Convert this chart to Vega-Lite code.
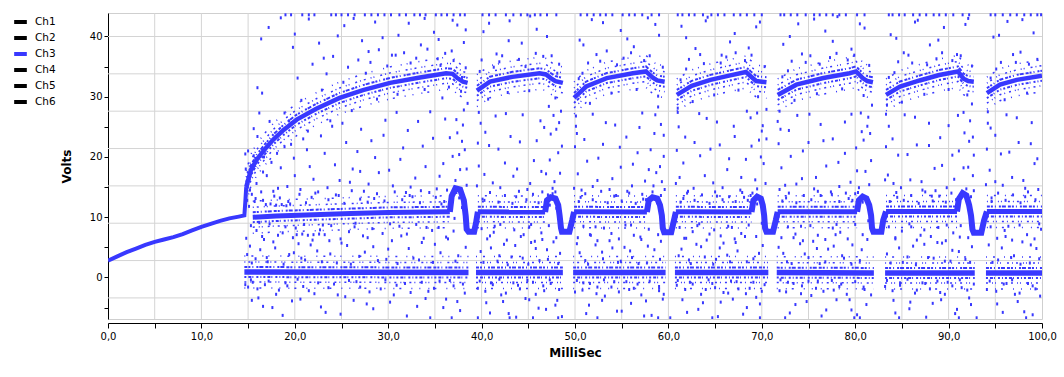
{
"$schema":"https://vega.github.io/schema/vega-lite/v6.json",
"width":934,"height":306,
"autosize":{"type":"none"},
"padding":{"left":108,"top":13,"right":22,"bottom":58},
"background":"white",
"config":{
"view":{"stroke":"#cfcfcf","strokeWidth":1},
"font":"DejaVu Sans",
"axisX":{"values":[0,5,10,15,20,25,30,35,40,45,50,55,60,65,70,75,80,85,90,95,100],"labelExpr":"datum.value % 10 == 0 ? replace(format(datum.value, '.1f'), '.', ',') : ''","offset":4,"grid":false,"domainColor":"#000","tickColor":"#000","tickSize":5,"labelFontSize":10,"labelColor":"#000","labelPadding":3,"labelOverlap":false,"labelFlush":false,"titleFontSize":12,"titleFontWeight":"bold","titleColor":"#000","titlePadding":6},
"axisY":{"values":[-5,0,5,10,15,20,25,30,35,40],"labelExpr":"datum.value % 10 == 0 ? datum.label : ''","grid":false,"domainColor":"#000","tickColor":"#000","tickSize":4,"labelFontSize":10,"labelColor":"#000","labelPadding":2,"labelOverlap":false,"titleFontSize":12,"titleFontWeight":"bold","titleColor":"#000","titlePadding":16}
},
"datasets":{
"grid_h":[{"v":40},{"v":33.8},{"v":27.6},{"v":21.4},{"v":15.2},{"v":9.0},{"v":2.8},{"v":-3.4}],
"grid_v":[{"t":5},{"t":10},{"t":15},{"t":20},{"t":25},{"t":30},{"t":35},{"t":40},{"t":45},{"t":50},{"t":55},{"t":60},{"t":65},{"t":70},{"t":75},{"t":80},{"t":85},{"t":90},{"t":95}],
"bands":[
{"s":"r","k":"ramp","t":0,"v":2.8},{"s":"r","k":"ramp","t":1,"v":3.5},{"s":"r","k":"ramp","t":2,"v":4.2},{"s":"r","k":"ramp","t":3,"v":4.8},{"s":"r","k":"ramp","t":4,"v":5.4},{"s":"r","k":"ramp","t":5,"v":5.9},{"s":"r","k":"ramp","t":6,"v":6.3},{"s":"r","k":"ramp","t":7,"v":6.7},{"s":"r","k":"ramp","t":8,"v":7.2},{"s":"r","k":"ramp","t":9,"v":7.8},{"s":"r","k":"ramp","t":10,"v":8.4},{"s":"r","k":"ramp","t":11,"v":8.9},{"s":"r","k":"ramp","t":12,"v":9.4},{"s":"r","k":"ramp","t":13,"v":9.8},{"s":"r","k":"ramp","t":14,"v":10.1},{"s":"r","k":"ramp","t":14.6,"v":10.3},{"s":"r","k":"ramp","t":14.7,"v":12.5},{"s":"r","k":"ramp","t":14.8,"v":15.0},
{"s":"u1","k":"up","t":14.8,"v":15.0},{"s":"u1","k":"up","t":15.3,"v":17.8},{"s":"u1","k":"up","t":15.9,"v":19.5},{"s":"u1","k":"up","t":16.8,"v":21.3},{"s":"u1","k":"up","t":17.7,"v":22.9},{"s":"u1","k":"up","t":18.8,"v":24.5},{"s":"u1","k":"up","t":20.2,"v":26.2},{"s":"u1","k":"up","t":22.3,"v":28.0},{"s":"u1","k":"up","t":24.8,"v":29.8},{"s":"u1","k":"up","t":27.3,"v":31.1},{"s":"u1","k":"up","t":30.2,"v":32.3},{"s":"u1","k":"up","t":33.4,"v":33.2},{"s":"u1","k":"up","t":36.2,"v":33.9},{"s":"u1","k":"up","t":36.9,"v":33.8},{"s":"u1","k":"up","t":37.4,"v":33.1},{"s":"u1","k":"up","t":38.0,"v":32.5},{"s":"u1","k":"up","t":38.5,"v":32.3},
{"s":"u2","k":"up","t":39.5,"v":31.0},{"s":"u2","k":"up","t":40.9,"v":32.5},{"s":"u2","k":"up","t":43.3,"v":33.3},{"s":"u2","k":"up","t":46.2,"v":33.9},{"s":"u2","k":"up","t":46.9,"v":33.7},{"s":"u2","k":"up","t":47.4,"v":33.1},{"s":"u2","k":"up","t":47.9,"v":32.6},{"s":"u2","k":"up","t":48.7,"v":32.3},
{"s":"u3","k":"up","t":49.9,"v":29.8},{"s":"u3","k":"up","t":51.2,"v":31.7},{"s":"u3","k":"up","t":53.4,"v":33.1},{"s":"u3","k":"up","t":56.2,"v":33.9},{"s":"u3","k":"up","t":57.6,"v":34.2},{"s":"u3","k":"up","t":58.3,"v":33.2},{"s":"u3","k":"up","t":58.8,"v":32.7},{"s":"u3","k":"up","t":59.6,"v":32.5},
{"s":"u4","k":"up","t":60.9,"v":30.3},{"s":"u4","k":"up","t":62.5,"v":31.8},{"s":"u4","k":"up","t":64.5,"v":32.8},{"s":"u4","k":"up","t":66.5,"v":33.5},{"s":"u4","k":"up","t":68.3,"v":34.1},{"s":"u4","k":"up","t":68.8,"v":33.4},{"s":"u4","k":"up","t":69.4,"v":32.6},{"s":"u4","k":"up","t":70.5,"v":32.4},
{"s":"u5","k":"up","t":71.7,"v":30.3},{"s":"u5","k":"up","t":73.7,"v":32.0},{"s":"u5","k":"up","t":76.6,"v":33.1},{"s":"u5","k":"up","t":79.4,"v":33.9},{"s":"u5","k":"up","t":80.1,"v":34.2},{"s":"u5","k":"up","t":80.8,"v":33.1},{"s":"u5","k":"up","t":81.3,"v":32.6},{"s":"u5","k":"up","t":81.9,"v":32.4},
{"s":"u6","k":"up","t":83.3,"v":30.3},{"s":"u6","k":"up","t":84.8,"v":31.7},{"s":"u6","k":"up","t":86.9,"v":32.7},{"s":"u6","k":"up","t":89.0,"v":33.6},{"s":"u6","k":"up","t":91.0,"v":34.2},{"s":"u6","k":"up","t":91.6,"v":33.0},{"s":"u6","k":"up","t":92.1,"v":32.6},{"s":"u6","k":"up","t":92.7,"v":32.5},
{"s":"u7","k":"up","t":94.1,"v":30.6},{"s":"u7","k":"up","t":95.5,"v":32.0},{"s":"u7","k":"up","t":97.3,"v":32.8},{"s":"u7","k":"up","t":100,"v":33.5},
{"s":"m1","k":"mid","t":15.5,"v":10.0},{"s":"m1","k":"mid","t":18,"v":10.2},{"s":"m1","k":"mid","t":22,"v":10.4},{"s":"m1","k":"mid","t":26,"v":10.6},{"s":"m1","k":"mid","t":30,"v":10.8},{"s":"m1","k":"mid","t":36.6,"v":10.9},
{"s":"d1","k":"dip","t":36.6,"v":10.9},{"s":"d1","k":"dip","t":36.8,"v":13.5},{"s":"d1","k":"dip","t":37.2,"v":14.8},{"s":"d1","k":"dip","t":37.7,"v":14.6},{"s":"d1","k":"dip","t":38.1,"v":12.8},{"s":"d1","k":"dip","t":38.3,"v":10.2},{"s":"d1","k":"dip","t":38.4,"v":8.0},{"s":"d1","k":"dip","t":38.6,"v":7.6},{"s":"d1","k":"dip","t":39.2,"v":7.6},{"s":"d1","k":"dip","t":39.4,"v":9.0},{"s":"d1","k":"dip","t":39.6,"v":10.9},
{"s":"m2","k":"mid","t":39.6,"v":10.9},{"s":"m2","k":"mid","t":46.8,"v":10.85},
{"s":"d2","k":"dip","t":46.8,"v":10.85},{"s":"d2","k":"dip","t":47.0,"v":12.8},{"s":"d2","k":"dip","t":47.4,"v":13.3},{"s":"d2","k":"dip","t":47.9,"v":13.1},{"s":"d2","k":"dip","t":48.2,"v":12.0},{"s":"d2","k":"dip","t":48.35,"v":10.3},{"s":"d2","k":"dip","t":48.5,"v":8.2},{"s":"d2","k":"dip","t":48.6,"v":7.6},{"s":"d2","k":"dip","t":49.4,"v":7.6},{"s":"d2","k":"dip","t":49.7,"v":9.5},{"s":"d2","k":"dip","t":49.9,"v":10.9},
{"s":"m3","k":"mid","t":49.9,"v":10.9},{"s":"m3","k":"mid","t":57.7,"v":10.85},
{"s":"d3","k":"dip","t":57.7,"v":10.85},{"s":"d3","k":"dip","t":57.9,"v":12.8},{"s":"d3","k":"dip","t":58.3,"v":13.3},{"s":"d3","k":"dip","t":58.8,"v":13.1},{"s":"d3","k":"dip","t":59.1,"v":12.0},{"s":"d3","k":"dip","t":59.3,"v":10.3},{"s":"d3","k":"dip","t":59.4,"v":8.2},{"s":"d3","k":"dip","t":59.55,"v":7.5},{"s":"d3","k":"dip","t":60.3,"v":7.5},{"s":"d3","k":"dip","t":60.6,"v":9.5},{"s":"d3","k":"dip","t":60.8,"v":10.9},
{"s":"m4","k":"mid","t":60.8,"v":10.9},{"s":"m4","k":"mid","t":68.9,"v":10.85},
{"s":"d4","k":"dip","t":68.9,"v":10.85},{"s":"d4","k":"dip","t":69.1,"v":12.8},{"s":"d4","k":"dip","t":69.5,"v":13.4},{"s":"d4","k":"dip","t":69.9,"v":13.1},{"s":"d4","k":"dip","t":70.1,"v":12.0},{"s":"d4","k":"dip","t":70.25,"v":10.3},{"s":"d4","k":"dip","t":70.35,"v":8.2},{"s":"d4","k":"dip","t":70.5,"v":7.6},{"s":"d4","k":"dip","t":71.2,"v":7.6},{"s":"d4","k":"dip","t":71.5,"v":9.5},{"s":"d4","k":"dip","t":71.7,"v":10.9},
{"s":"m5","k":"mid","t":71.7,"v":10.9},{"s":"m5","k":"mid","t":80.2,"v":10.9},
{"s":"d5","k":"dip","t":80.2,"v":10.9},{"s":"d5","k":"dip","t":80.4,"v":12.8},{"s":"d5","k":"dip","t":80.8,"v":13.4},{"s":"d5","k":"dip","t":81.2,"v":13.1},{"s":"d5","k":"dip","t":81.5,"v":12.0},{"s":"d5","k":"dip","t":81.7,"v":10.3},{"s":"d5","k":"dip","t":81.8,"v":8.2},{"s":"d5","k":"dip","t":81.95,"v":7.6},{"s":"d5","k":"dip","t":82.8,"v":7.6},{"s":"d5","k":"dip","t":83.0,"v":9.5},{"s":"d5","k":"dip","t":83.3,"v":10.95},
{"s":"m6","k":"mid","t":83.3,"v":10.95},{"s":"m6","k":"mid","t":90.9,"v":10.95},
{"s":"d6","k":"dip","t":90.9,"v":10.95},{"s":"d6","k":"dip","t":91.1,"v":13.0},{"s":"d6","k":"dip","t":91.5,"v":14.0},{"s":"d6","k":"dip","t":91.9,"v":13.6},{"s":"d6","k":"dip","t":92.2,"v":12.0},{"s":"d6","k":"dip","t":92.4,"v":10.3},{"s":"d6","k":"dip","t":92.55,"v":8.0},{"s":"d6","k":"dip","t":92.7,"v":7.4},{"s":"d6","k":"dip","t":93.5,"v":7.4},{"s":"d6","k":"dip","t":93.8,"v":9.5},{"s":"d6","k":"dip","t":94.1,"v":10.95},
{"s":"m7","k":"mid","t":94.1,"v":10.95},{"s":"m7","k":"mid","t":100,"v":10.95},
{"s":"l1","k":"low","t":14.6,"v":0.9},{"s":"l1","k":"low","t":38.6,"v":0.8},
{"s":"l2","k":"low","t":39.4,"v":0.8},{"s":"l2","k":"low","t":48.7,"v":0.8},
{"s":"l3","k":"low","t":49.8,"v":0.8},{"s":"l3","k":"low","t":59.7,"v":0.8},
{"s":"l4","k":"low","t":60.7,"v":0.8},{"s":"l4","k":"low","t":70.7,"v":0.8},
{"s":"l5","k":"low","t":71.6,"v":0.8},{"s":"l5","k":"low","t":82.0,"v":0.75},
{"s":"l6","k":"low","t":83.2,"v":0.75},{"s":"l6","k":"low","t":92.8,"v":0.75},
{"s":"l7","k":"low","t":94.0,"v":0.75},{"s":"l7","k":"low","t":100,"v":0.75}
],
"noise":[
{"t":17.2,"v":41.5},{"t":19.8,"v":38.2},{"t":21.5,"v":42.9},{"t":23.1,"v":36.4},{"t":24.6,"v":40.1},{"t":26.3,"v":43.0},{"t":27.9,"v":37.5},{"t":29.4,"v":39.8},{"t":30.8,"v":36.9},{"t":32.2,"v":42.2},{"t":33.5,"v":38.6},{"t":34.9,"v":40.7},{"t":36.1,"v":37.2},{"t":37.4,"v":41.9},{"t":38.1,"v":39.0},
{"t":16.0,"v":23.4},{"t":16.6,"v":17.5},{"t":17.3,"v":25.9},{"t":18.1,"v":20.6},{"t":18.9,"v":27.3},{"t":19.6,"v":22.1},{"t":20.7,"v":29.4},{"t":21.4,"v":24.3},{"t":22.9,"v":31.1},{"t":23.8,"v":26.0},{"t":25.2,"v":32.4},{"t":26.1,"v":27.7},{"t":27.6,"v":33.9},{"t":28.8,"v":29.6},{"t":29.9,"v":35.1},{"t":31.0,"v":30.4},{"t":32.4,"v":35.6},{"t":33.9,"v":31.2},{"t":35.3,"v":36.3},{"t":36.5,"v":31.6},{"t":37.0,"v":36.0},{"t":37.8,"v":30.9},{"t":38.3,"v":34.8},{"t":35.8,"v":29.8},
{"t":15.4,"v":13.8},{"t":15.9,"v":15.6},{"t":16.4,"v":14.2},{"t":17.0,"v":16.9},{"t":17.8,"v":13.5},{"t":18.5,"v":18.2},{"t":19.2,"v":15.1},{"t":19.9,"v":19.8},{"t":20.6,"v":14.6},{"t":21.3,"v":21.2},{"t":22.0,"v":16.3},{"t":22.8,"v":23.5},{"t":23.5,"v":14.9},{"t":24.3,"v":18.7},{"t":25.1,"v":25.6},{"t":25.9,"v":15.8},{"t":26.7,"v":20.9},{"t":27.4,"v":14.3},{"t":28.2,"v":22.7},{"t":29.0,"v":17.4},{"t":29.7,"v":26.1},{"t":30.5,"v":15.2},{"t":31.3,"v":19.6},{"t":32.1,"v":24.4},{"t":32.9,"v":16.5},{"t":33.7,"v":21.8},{"t":34.5,"v":27.5},{"t":35.2,"v":14.7},{"t":35.9,"v":18.9},{"t":36.6,"v":23.2},{"t":37.2,"v":16.1},{"t":37.6,"v":20.4},{"t":38.0,"v":25.3},{"t":38.4,"v":18.0},{"t":31.9,"v":14.1},{"t":27.0,"v":17.6},
{"t":15.1,"v":11.8},{"t":15.3,"v":8.6},{"t":15.7,"v":12.6},{"t":16.2,"v":9.1},{"t":16.9,"v":12.1},{"t":17.4,"v":12.2},{"t":18.0,"v":12.0},{"t":18.6,"v":12.1},{"t":19.1,"v":11.9},{"t":19.5,"v":12.2},{"t":20.1,"v":8.2},{"t":21.8,"v":13.3},{"t":23.0,"v":8.7},{"t":24.7,"v":13.6},{"t":26.4,"v":8.4},{"t":28.5,"v":13.1},{"t":30.2,"v":8.9},{"t":32.6,"v":13.4},{"t":34.1,"v":8.3},{"t":36.8,"v":12.5},{"t":37.3,"v":14.1},{"t":37.6,"v":13.2},{"t":37.9,"v":11.6},{"t":38.2,"v":12.9},{"t":37.1,"v":9.8},
{"t":20.2,"v":7.1},{"t":20.8,"v":7.2},{"t":21.4,"v":7.0},{"t":22.0,"v":7.1},{"t":22.6,"v":7.2},{"t":23.2,"v":7.1},
{"t":15.2,"v":5.2},{"t":15.8,"v":3.1},{"t":16.5,"v":6.8},{"t":17.1,"v":2.6},{"t":17.9,"v":4.9},{"t":18.7,"v":7.4},{"t":19.4,"v":3.8},{"t":20.4,"v":5.6},{"t":21.1,"v":2.9},{"t":22.4,"v":4.4},{"t":23.7,"v":6.1},{"t":24.5,"v":2.4},{"t":25.6,"v":5.3},{"t":26.9,"v":3.5},{"t":27.8,"v":6.6},{"t":28.9,"v":2.8},{"t":30.0,"v":4.7},{"t":31.4,"v":6.9},{"t":32.7,"v":3.2},{"t":33.6,"v":5.8},{"t":34.8,"v":2.5},{"t":35.6,"v":4.1},{"t":36.4,"v":6.4},{"t":37.5,"v":3.6},{"t":38.3,"v":5.0},
{"t":15.0,"v":-1.6},{"t":15.5,"v":-0.8},{"t":16.1,"v":-3.4},{"t":16.8,"v":-1.2},{"t":17.6,"v":-5.0},{"t":18.3,"v":-2.1},{"t":19.0,"v":-0.9},{"t":19.7,"v":-3.9},{"t":20.9,"v":-1.5},{"t":22.1,"v":-2.7},{"t":23.3,"v":-5.8},{"t":24.2,"v":-1.1},{"t":25.4,"v":-3.2},{"t":26.6,"v":-0.7},{"t":27.7,"v":-4.4},{"t":29.2,"v":-1.9},{"t":30.6,"v":-2.9},{"t":31.8,"v":-1.0},{"t":33.1,"v":-4.8},{"t":34.3,"v":-2.3},{"t":35.5,"v":-0.6},{"t":36.2,"v":-3.6},{"t":37.0,"v":-1.4},{"t":37.7,"v":-5.5},{"t":38.2,"v":-2.6},
{"t":14.7,"v":20.5},{"t":14.75,"v":18.0},{"t":14.8,"v":6.5},{"t":14.9,"v":3.8},{"t":14.7,"v":-1.2},{"t":15.0,"v":21.0},{"t":15.6,"v":20.2},{"t":14.9,"v":12.8},{"t":15.2,"v":14.5},{"t":15.4,"v":-3.8},{"t":16.0,"v":31.5},{"t":16.5,"v":30.6},
{"t":40.2,"v":40.8},{"t":41.6,"v":37.1},{"t":43.0,"v":42.6},{"t":44.3,"v":38.9},{"t":45.9,"v":41.2},{"t":47.5,"v":36.8},
{"t":39.8,"v":34.2},{"t":40.7,"v":29.6},{"t":41.9,"v":35.8},{"t":42.8,"v":30.7},{"t":44.0,"v":36.2},{"t":45.1,"v":31.0},{"t":46.6,"v":36.7},{"t":47.9,"v":29.8},{"t":48.3,"v":35.4},
{"t":39.7,"v":18.5},{"t":40.4,"v":24.1},{"t":41.2,"v":15.7},{"t":41.8,"v":21.3},{"t":42.6,"v":27.2},{"t":43.4,"v":16.8},{"t":44.1,"v":22.5},{"t":44.9,"v":14.6},{"t":45.6,"v":19.4},{"t":46.3,"v":26.0},{"t":46.9,"v":17.2},{"t":47.4,"v":23.8},{"t":47.8,"v":15.9},{"t":48.2,"v":20.7},{"t":48.5,"v":27.6},{"t":47.2,"v":28.4},
{"t":40.1,"v":13.0},{"t":41.4,"v":8.5},{"t":43.7,"v":13.4},{"t":45.3,"v":8.8},{"t":46.8,"v":12.6},{"t":47.6,"v":13.9},{"t":48.0,"v":11.5},{"t":47.3,"v":12.0},
{"t":39.9,"v":4.3},{"t":40.9,"v":6.9},{"t":41.7,"v":2.7},{"t":42.4,"v":5.5},{"t":43.2,"v":3.4},{"t":44.5,"v":7.1},{"t":45.0,"v":2.2},{"t":45.8,"v":4.8},{"t":46.5,"v":6.3},{"t":47.1,"v":3.0},{"t":47.7,"v":5.9},{"t":48.4,"v":4.0},
{"t":39.6,"v":-1.8},{"t":40.5,"v":-4.2},{"t":41.0,"v":-0.9},{"t":42.1,"v":-2.9},{"t":42.9,"v":-6.0},{"t":43.9,"v":-1.3},{"t":44.7,"v":-3.5},{"t":45.5,"v":-0.8},{"t":46.1,"v":-5.1},{"t":46.7,"v":-2.2},{"t":47.4,"v":-1.0},{"t":48.1,"v":-3.8},{"t":48.6,"v":-6.5},
{"t":50.5,"v":39.4},{"t":51.8,"v":42.8},{"t":53.4,"v":37.6},{"t":54.9,"v":41.0},{"t":56.3,"v":38.3},{"t":57.8,"v":43.1},{"t":59.0,"v":40.2},
{"t":50.1,"v":26.8},{"t":50.8,"v":33.9},{"t":51.6,"v":28.9},{"t":52.7,"v":35.9},{"t":53.9,"v":30.6},{"t":55.2,"v":36.4},{"t":56.6,"v":31.2},{"t":58.0,"v":36.8},{"t":58.9,"v":30.1},{"t":59.4,"v":34.9},
{"t":50.3,"v":17.2},{"t":51.0,"v":22.9},{"t":51.9,"v":15.1},{"t":52.5,"v":19.8},{"t":53.3,"v":25.7},{"t":54.0,"v":16.4},{"t":54.8,"v":21.6},{"t":55.6,"v":14.3},{"t":56.2,"v":18.8},{"t":56.9,"v":24.9},{"t":57.5,"v":16.0},{"t":58.1,"v":21.2},{"t":58.6,"v":27.0},{"t":59.1,"v":18.4},{"t":59.5,"v":23.6},{"t":58.4,"v":15.2},
{"t":50.6,"v":13.3},{"t":52.2,"v":8.4},{"t":54.4,"v":13.6},{"t":56.0,"v":8.7},{"t":57.3,"v":13.0},{"t":58.3,"v":14.2},{"t":58.8,"v":12.4},{"t":59.3,"v":9.2},
{"t":50.2,"v":5.6},{"t":51.1,"v":2.8},{"t":51.7,"v":7.0},{"t":52.9,"v":4.2},{"t":53.7,"v":6.1},{"t":54.6,"v":2.5},{"t":55.3,"v":5.0},{"t":56.1,"v":3.3},{"t":57.0,"v":6.7},{"t":57.7,"v":2.4},{"t":58.5,"v":4.6},{"t":59.2,"v":6.0},
{"t":50.0,"v":-2.4},{"t":50.9,"v":-0.9},{"t":51.5,"v":-4.6},{"t":52.4,"v":-1.6},{"t":53.2,"v":-3.1},{"t":54.2,"v":-0.7},{"t":55.0,"v":-5.6},{"t":55.8,"v":-2.0},{"t":56.7,"v":-1.1},{"t":57.6,"v":-3.9},{"t":58.2,"v":-6.3},{"t":59.0,"v":-1.5},{"t":59.5,"v":-2.8},
{"t":61.4,"v":41.7},{"t":62.9,"v":38.0},{"t":64.2,"v":43.2},{"t":65.7,"v":36.9},{"t":67.1,"v":40.5},{"t":68.6,"v":38.1},{"t":69.8,"v":42.4},
{"t":61.0,"v":27.4},{"t":61.9,"v":34.6},{"t":62.6,"v":29.2},{"t":63.8,"v":35.5},{"t":64.9,"v":30.3},{"t":66.2,"v":36.6},{"t":67.5,"v":31.1},{"t":68.9,"v":36.9},{"t":69.6,"v":30.0},{"t":70.3,"v":35.0},
{"t":61.2,"v":16.6},{"t":61.8,"v":23.3},{"t":62.7,"v":14.8},{"t":63.4,"v":20.2},{"t":64.1,"v":26.4},{"t":64.8,"v":15.7},{"t":65.5,"v":22.0},{"t":66.3,"v":17.9},{"t":67.0,"v":25.1},{"t":67.7,"v":14.5},{"t":68.3,"v":19.6},{"t":68.8,"v":26.5},{"t":69.3,"v":16.2},{"t":69.7,"v":22.8},{"t":70.2,"v":18.9},{"t":70.5,"v":27.9},
{"t":61.6,"v":13.1},{"t":63.1,"v":8.6},{"t":65.2,"v":13.5},{"t":66.8,"v":8.3},{"t":68.1,"v":13.3},{"t":69.0,"v":14.0},{"t":69.5,"v":12.2},{"t":70.0,"v":9.0},
{"t":61.1,"v":3.6},{"t":61.7,"v":6.5},{"t":62.4,"v":2.3},{"t":63.5,"v":5.1},{"t":64.4,"v":7.2},{"t":65.1,"v":3.0},{"t":65.9,"v":5.7},{"t":66.6,"v":2.6},{"t":67.4,"v":4.4},{"t":68.2,"v":6.8},{"t":69.1,"v":3.1},{"t":70.1,"v":5.3},
{"t":60.9,"v":-1.3},{"t":61.5,"v":-3.7},{"t":62.3,"v":-0.8},{"t":63.2,"v":-5.3},{"t":64.0,"v":-2.0},{"t":64.7,"v":-1.0},{"t":65.6,"v":-4.1},{"t":66.4,"v":-2.6},{"t":67.3,"v":-0.7},{"t":68.0,"v":-6.1},{"t":68.7,"v":-1.8},{"t":69.4,"v":-3.3},{"t":70.3,"v":-1.2},
{"t":72.3,"v":38.7},{"t":73.9,"v":42.1},{"t":75.2,"v":36.8},{"t":76.8,"v":40.9},{"t":78.1,"v":43.3},{"t":79.6,"v":37.9},{"t":81.0,"v":41.4},
{"t":71.9,"v":27.6},{"t":72.8,"v":34.3},{"t":73.5,"v":29.4},{"t":74.7,"v":35.7},{"t":75.9,"v":30.5},{"t":77.3,"v":36.5},{"t":78.6,"v":31.3},{"t":79.9,"v":36.9},{"t":80.9,"v":30.2},{"t":81.5,"v":35.2},
{"t":72.1,"v":18.2},{"t":72.9,"v":24.4},{"t":73.7,"v":15.5},{"t":74.4,"v":21.0},{"t":75.1,"v":27.1},{"t":75.8,"v":16.6},{"t":76.6,"v":22.7},{"t":77.4,"v":14.2},{"t":78.2,"v":19.1},{"t":78.9,"v":25.8},{"t":79.5,"v":15.8},{"t":80.1,"v":21.5},{"t":80.6,"v":27.3},{"t":81.1,"v":17.6},{"t":81.6,"v":23.9},{"t":80.4,"v":14.9},
{"t":72.6,"v":13.2},{"t":74.2,"v":8.5},{"t":76.3,"v":13.6},{"t":78.0,"v":8.8},{"t":79.3,"v":13.1},{"t":80.3,"v":14.1},{"t":80.8,"v":12.5},{"t":81.4,"v":9.4},
{"t":71.8,"v":5.0},{"t":72.7,"v":2.6},{"t":73.4,"v":6.6},{"t":74.6,"v":3.9},{"t":75.5,"v":6.0},{"t":76.2,"v":2.3},{"t":77.1,"v":4.7},{"t":77.9,"v":7.1},{"t":78.8,"v":3.2},{"t":79.7,"v":5.4},{"t":80.5,"v":2.8},{"t":81.3,"v":6.3},
{"t":71.9,"v":-2.2},{"t":72.8,"v":-0.8},{"t":73.6,"v":-4.5},{"t":74.3,"v":-1.4},{"t":75.3,"v":-3.0},{"t":76.0,"v":-0.6},{"t":76.9,"v":-5.4},{"t":77.7,"v":-2.1},{"t":78.5,"v":-1.1},{"t":79.4,"v":-3.7},{"t":80.2,"v":-6.2},{"t":80.9,"v":-1.6},{"t":81.7,"v":-2.9},
{"t":83.8,"v":40.3},{"t":85.2,"v":37.3},{"t":86.7,"v":42.7},{"t":88.0,"v":38.6},{"t":89.5,"v":41.5},{"t":90.9,"v":37.0},{"t":92.1,"v":43.0},
{"t":83.3,"v":27.1},{"t":84.2,"v":34.0},{"t":85.0,"v":29.1},{"t":86.1,"v":35.6},{"t":87.4,"v":30.4},{"t":88.7,"v":36.3},{"t":90.0,"v":31.2},{"t":91.3,"v":36.8},{"t":92.0,"v":30.3},{"t":92.5,"v":35.1},
{"t":83.5,"v":17.0},{"t":84.0,"v":23.0},{"t":84.9,"v":14.9},{"t":85.6,"v":20.4},{"t":86.4,"v":26.6},{"t":87.1,"v":15.9},{"t":87.9,"v":21.9},{"t":88.6,"v":14.4},{"t":89.3,"v":18.6},{"t":90.0,"v":25.2},{"t":90.6,"v":16.3},{"t":91.1,"v":21.0},{"t":91.6,"v":27.4},{"t":92.1,"v":18.3},{"t":92.6,"v":23.3},{"t":91.9,"v":14.7},
{"t":84.5,"v":13.3},{"t":86.0,"v":8.4},{"t":88.2,"v":13.5},{"t":89.8,"v":8.7},{"t":91.0,"v":13.2},{"t":91.5,"v":14.0},{"t":92.0,"v":12.3},{"t":92.4,"v":9.3},
{"t":83.4,"v":3.9},{"t":84.3,"v":6.6},{"t":85.1,"v":2.5},{"t":86.2,"v":5.2},{"t":87.0,"v":7.0},{"t":87.8,"v":3.3},{"t":88.8,"v":5.8},{"t":89.6,"v":2.7},{"t":90.4,"v":4.5},{"t":91.2,"v":6.7},{"t":91.8,"v":3.0},{"t":92.5,"v":5.1},
{"t":83.2,"v":-1.5},{"t":84.1,"v":-3.8},{"t":84.8,"v":-0.9},{"t":85.8,"v":-5.2},{"t":86.6,"v":-2.1},{"t":87.5,"v":-1.0},{"t":88.3,"v":-4.3},{"t":89.1,"v":-2.5},{"t":89.9,"v":-0.8},{"t":90.7,"v":-6.0},{"t":91.4,"v":-1.7},{"t":92.2,"v":-3.4},{"t":92.7,"v":-1.1},
{"t":94.8,"v":39.9},{"t":96.3,"v":42.5},{"t":97.7,"v":37.4},{"t":99.1,"v":40.6},
{"t":94.2,"v":27.5},{"t":95.1,"v":34.6},{"t":96.0,"v":29.5},{"t":97.2,"v":35.7},{"t":98.4,"v":30.6},{"t":99.5,"v":36.2},
{"t":94.4,"v":17.8},{"t":95.0,"v":23.6},{"t":95.8,"v":15.3},{"t":96.5,"v":20.8},{"t":97.3,"v":26.5},{"t":98.0,"v":16.1},{"t":98.8,"v":22.2},{"t":99.6,"v":14.6},{"t":99.2,"v":18.9},
{"t":94.6,"v":13.2},{"t":96.4,"v":8.5},{"t":98.2,"v":13.4},{"t":99.7,"v":8.9},
{"t":94.3,"v":5.4},{"t":95.3,"v":2.9},{"t":96.1,"v":6.8},{"t":97.0,"v":3.6},{"t":97.9,"v":5.9},{"t":98.7,"v":2.4},{"t":99.4,"v":4.8},
{"t":94.1,"v":-2.0},{"t":95.2,"v":-4.4},{"t":96.2,"v":-1.0},{"t":97.1,"v":-2.8},{"t":98.1,"v":-5.7},{"t":99.0,"v":-1.4},{"t":99.8,"v":-3.1},
{"t":37.9,"v":22.6},{"t":38.1,"v":27.8},{"t":37.3,"v":26.2},{"t":38.4,"v":15.3},{"t":37.7,"v":17.9},
{"t":48.0,"v":24.6},{"t":48.4,"v":17.3},{"t":47.7,"v":26.9},{"t":48.6,"v":21.8},{"t":47.9,"v":14.2},
{"t":59.2,"v":25.4},{"t":58.7,"v":17.4},{"t":59.5,"v":20.1},{"t":58.9,"v":28.3},{"t":59.6,"v":14.6},
{"t":70.0,"v":24.3},{"t":69.5,"v":27.3},{"t":70.4,"v":15.6},{"t":69.9,"v":20.0},{"t":70.5,"v":23.0},
{"t":81.3,"v":25.1},{"t":81.7,"v":19.4},{"t":80.7,"v":24.2},{"t":81.8,"v":28.6},{"t":81.5,"v":15.4},
{"t":92.3,"v":26.0},{"t":92.6,"v":16.9},{"t":91.7,"v":24.0},{"t":92.5,"v":28.8},{"t":92.7,"v":20.3},
{"t":39.6,"v":22.3},{"t":39.7,"v":27.4},{"t":39.5,"v":15.2},{"t":50.0,"v":21.7},{"t":50.1,"v":25.1},{"t":49.9,"v":14.8},{"t":60.9,"v":21.1},{"t":61.0,"v":28.1},{"t":60.8,"v":15.6},{"t":71.8,"v":22.2},{"t":71.7,"v":25.9},{"t":71.9,"v":14.6},{"t":83.3,"v":21.7},{"t":83.4,"v":28.6},{"t":83.2,"v":16.2},{"t":94.1,"v":21.3},{"t":94.2,"v":25.6},{"t":94.0,"v":15.4},
{"t":19.6,"v":43.6},{"t":20.8,"v":43.6},{"t":22.1,"v":43.6},{"t":23.9,"v":43.6},{"t":25.0,"v":43.6},{"t":26.4,"v":43.6},{"t":27.5,"v":43.6},{"t":28.9,"v":43.6},{"t":30.3,"v":43.6},{"t":31.2,"v":43.6},{"t":32.8,"v":43.6},{"t":34.0,"v":43.6},{"t":35.1,"v":43.6},{"t":36.3,"v":43.6},{"t":37.7,"v":43.6},{"t":40.1,"v":43.6},{"t":41.5,"v":43.6},{"t":42.6,"v":43.6},{"t":44.2,"v":43.6},{"t":45.7,"v":43.6},{"t":47.0,"v":43.6},{"t":50.6,"v":43.6},{"t":52.0,"v":43.6},{"t":53.3,"v":43.6},{"t":55.1,"v":43.6},{"t":56.4,"v":43.6},{"t":58.2,"v":43.6},{"t":61.5,"v":43.6},{"t":62.8,"v":43.6},{"t":64.6,"v":43.6},{"t":66.0,"v":43.6},{"t":67.7,"v":43.6},{"t":69.2,"v":43.6},{"t":72.4,"v":43.6},{"t":73.8,"v":43.6},{"t":75.6,"v":43.6},{"t":76.9,"v":43.6},{"t":78.3,"v":43.6},{"t":80.2,"v":43.6},{"t":84.0,"v":43.6},{"t":85.3,"v":43.6},{"t":86.9,"v":43.6},{"t":88.4,"v":43.6},{"t":89.7,"v":43.6},{"t":91.5,"v":43.6},{"t":95.0,"v":43.6},{"t":96.6,"v":43.6},{"t":98.1,"v":43.6},{"t":99.5,"v":43.6},
{"t":19.0,"v":43.6},{"t":21.5,"v":43.6},{"t":24.4,"v":43.6},{"t":25.7,"v":43.6},{"t":28.2,"v":43.6},{"t":29.6,"v":43.6},{"t":31.9,"v":43.6},{"t":33.4,"v":43.6},{"t":35.7,"v":43.6},{"t":37.0,"v":43.6},{"t":38.2,"v":43.6},{"t":40.8,"v":43.6},{"t":43.4,"v":43.6},{"t":44.9,"v":43.6},{"t":46.3,"v":43.6},{"t":48.0,"v":43.6},{"t":51.3,"v":43.6},{"t":52.7,"v":43.6},{"t":54.0,"v":43.6},{"t":55.8,"v":43.6},{"t":57.2,"v":43.6},{"t":59.0,"v":43.6},{"t":61.0,"v":43.6},{"t":62.2,"v":43.6},{"t":63.7,"v":43.6},{"t":65.3,"v":43.6},{"t":67.0,"v":43.6},{"t":68.4,"v":43.6},{"t":70.0,"v":43.6},{"t":72.0,"v":43.6},{"t":73.1,"v":43.6},{"t":74.7,"v":43.6},{"t":76.2,"v":43.6},{"t":77.6,"v":43.6},{"t":79.0,"v":43.6},{"t":81.0,"v":43.6},{"t":83.6,"v":43.6},{"t":84.7,"v":43.6},{"t":86.2,"v":43.6},{"t":87.6,"v":43.6},{"t":89.0,"v":43.6},{"t":90.5,"v":43.6},{"t":92.2,"v":43.6},{"t":94.5,"v":43.6},{"t":95.8,"v":43.6},{"t":97.3,"v":43.6},{"t":98.8,"v":43.6},{"t":99.9,"v":43.6},
{"t":34.5,"v":-6.7},{"t":36.8,"v":-6.7},{"t":39.6,"v":-6.7},{"t":43.0,"v":-6.7},{"t":45.5,"v":-6.7},{"t":48.2,"v":-6.7},{"t":52.4,"v":-6.7},{"t":58.9,"v":-6.7},{"t":60.2,"v":-6.7},{"t":64.7,"v":-6.7},{"t":69.8,"v":-6.7},{"t":72.5,"v":-6.7},{"t":79.9,"v":-6.7},{"t":80.5,"v":-6.7},{"t":84.7,"v":-6.7},{"t":91.1,"v":-6.7},{"t":93.0,"v":-6.7},{"t":98.3,"v":-6.7},
{"t":20.3,"v":33.1},{"t":21.9,"v":35.4},{"t":23.4,"v":33.8},{"t":24.1,"v":36.7},{"t":25.7,"v":34.9},{"t":26.8,"v":36.1},{"t":28.1,"v":35.7},{"t":29.0,"v":37.8},{"t":30.4,"v":36.9},{"t":31.7,"v":37.3},{"t":33.0,"v":36.4},{"t":34.2,"v":37.9},{"t":35.6,"v":35.2},{"t":36.8,"v":37.6},{"t":37.9,"v":33.2},
{"t":16.4,"v":39.6},{"t":18.5,"v":43.1},{"t":20.0,"v":40.4},{"t":22.6,"v":38.9},{"t":25.3,"v":41.8},{"t":27.2,"v":39.3},{"t":28.6,"v":42.4},{"t":31.1,"v":40.2},{"t":33.9,"v":43.0},{"t":35.4,"v":39.5},{"t":36.9,"v":42.7},{"t":38.3,"v":41.1},
{"t":15.6,"v":24.7},{"t":16.2,"v":27.3},{"t":16.7,"v":20.0},{"t":17.5,"v":19.1},{"t":18.2,"v":14.8},{"t":18.9,"v":21.7},{"t":19.4,"v":26.0},{"t":20.0,"v":16.9},{"t":20.9,"v":23.0},{"t":21.6,"v":18.4},{"t":22.5,"v":14.2},{"t":23.2,"v":20.6},{"t":24.0,"v":25.1},{"t":24.8,"v":16.1},{"t":25.5,"v":22.4},{"t":26.2,"v":18.0},{"t":27.1,"v":24.6},{"t":27.9,"v":15.5},{"t":28.6,"v":19.9},{"t":29.5,"v":23.6},{"t":30.1,"v":17.8},{"t":30.9,"v":27.4},{"t":31.6,"v":21.5},{"t":32.4,"v":15.0},{"t":33.2,"v":25.9},{"t":34.0,"v":18.4},{"t":34.8,"v":23.1},{"t":35.5,"v":16.8},{"t":36.1,"v":26.3},{"t":36.9,"v":20.1},{"t":37.4,"v":24.0},{"t":37.8,"v":14.6},{"t":38.2,"v":21.2},{"t":38.5,"v":28.9},{"t":33.5,"v":14.4},
{"t":15.8,"v":13.1},{"t":16.6,"v":12.8},{"t":17.7,"v":14.3},{"t":18.4,"v":13.2},{"t":19.3,"v":12.6},{"t":20.5,"v":13.8},{"t":21.2,"v":12.4},{"t":22.2,"v":14.0},{"t":23.6,"v":12.9},{"t":24.4,"v":13.7},{"t":25.3,"v":12.3},{"t":26.1,"v":14.4},{"t":27.0,"v":13.0},{"t":27.8,"v":12.5},{"t":28.8,"v":13.9},{"t":29.6,"v":12.7},{"t":30.7,"v":14.2},{"t":31.5,"v":12.9},{"t":32.3,"v":13.6},{"t":33.4,"v":12.4},{"t":34.4,"v":14.1},{"t":35.1,"v":13.3},{"t":36.0,"v":12.6},{"t":36.3,"v":14.5},{"t":35.7,"v":12.2},
{"t":15.9,"v":7.8},{"t":16.7,"v":6.3},{"t":17.3,"v":8.9},{"t":18.2,"v":7.0},{"t":19.0,"v":8.4},{"t":19.8,"v":6.6},{"t":21.0,"v":8.8},{"t":21.9,"v":6.2},{"t":22.7,"v":7.9},{"t":23.9,"v":8.6},{"t":24.9,"v":6.4},{"t":25.8,"v":7.6},{"t":26.5,"v":9.0},{"t":27.3,"v":6.9},{"t":28.3,"v":8.1},{"t":29.4,"v":7.3},{"t":30.4,"v":6.1},{"t":31.2,"v":8.5},{"t":32.0,"v":7.2},{"t":33.0,"v":8.8},{"t":33.8,"v":6.5},{"t":34.7,"v":7.8},{"t":35.4,"v":8.3},{"t":36.2,"v":6.7},{"t":37.0,"v":7.7},
{"t":15.4,"v":2.4},{"t":16.3,"v":4.6},{"t":17.0,"v":3.3},{"t":17.7,"v":5.9},{"t":18.8,"v":2.2},{"t":19.9,"v":4.1},{"t":20.7,"v":3.2},{"t":21.7,"v":5.4},{"t":22.9,"v":2.6},{"t":23.8,"v":3.9},{"t":25.0,"v":5.7},{"t":26.0,"v":2.2},{"t":27.5,"v":4.2},{"t":28.4,"v":5.1},{"t":29.8,"v":3.0},{"t":31.0,"v":2.3},{"t":32.2,"v":4.8},{"t":33.3,"v":2.9},{"t":35.0,"v":5.5},{"t":37.2,"v":2.7},
{"t":15.3,"v":-0.4},{"t":16.0,"v":-1.9},{"t":17.2,"v":-0.6},{"t":18.0,"v":-2.8},{"t":19.2,"v":-1.4},{"t":20.3,"v":-0.3},{"t":21.5,"v":-2.2},{"t":22.5,"v":-0.9},{"t":23.6,"v":-1.7},{"t":24.6,"v":-2.9},{"t":25.8,"v":-0.5},{"t":27.0,"v":-1.6},{"t":28.0,"v":-2.4},{"t":29.7,"v":-0.4},{"t":30.9,"v":-1.3},{"t":32.4,"v":-2.5},{"t":33.6,"v":-0.8},{"t":34.9,"v":-1.8},{"t":36.6,"v":-0.5},{"t":38.0,"v":-1.1},
{"t":16.6,"v":-4.8},{"t":18.7,"v":-6.3},{"t":20.6,"v":-3.6},{"t":22.8,"v":-4.9},{"t":24.9,"v":-6.1},{"t":26.3,"v":-3.8},{"t":28.4,"v":-5.2},{"t":30.2,"v":-4.1},{"t":32.0,"v":-6.4},{"t":34.0,"v":-3.5},{"t":35.9,"v":-5.0},{"t":37.4,"v":-4.0},
{"t":40.0,"v":36.1},{"t":41.3,"v":34.9},{"t":42.2,"v":36.8},{"t":44.7,"v":35.0},{"t":45.8,"v":37.2},{"t":48.1,"v":33.9},
{"t":40.8,"v":42.2},{"t":42.9,"v":39.3},{"t":45.2,"v":43.4},{"t":47.0,"v":40.0},
{"t":39.9,"v":25.6},{"t":40.3,"v":17.1},{"t":40.8,"v":21.9},{"t":41.5,"v":26.8},{"t":42.0,"v":14.9},{"t":42.5,"v":19.0},{"t":43.1,"v":23.4},{"t":43.8,"v":18.0},{"t":44.4,"v":27.0},{"t":45.2,"v":15.6},{"t":45.9,"v":22.7},{"t":46.4,"v":17.6},{"t":46.7,"v":24.9},{"t":47.3,"v":19.5},{"t":47.6,"v":14.8},{"t":48.3,"v":25.7},
{"t":40.3,"v":12.8},{"t":40.9,"v":14.1},{"t":41.8,"v":12.5},{"t":42.5,"v":13.6},{"t":43.3,"v":12.3},{"t":44.0,"v":14.3},{"t":44.8,"v":12.9},{"t":45.5,"v":13.8},{"t":46.1,"v":12.4},{"t":46.5,"v":14.2},{"t":47.1,"v":13.7},{"t":48.1,"v":13.0},
{"t":40.0,"v":8.1},{"t":40.6,"v":6.4},{"t":41.3,"v":7.5},{"t":42.0,"v":8.8},{"t":42.7,"v":6.2},{"t":43.5,"v":7.9},{"t":44.2,"v":6.8},{"t":45.1,"v":8.4},{"t":45.7,"v":6.0},{"t":46.4,"v":7.4},{"t":47.2,"v":8.6},{"t":48.0,"v":6.6},
{"t":40.2,"v":2.5},{"t":41.0,"v":4.9},{"t":41.9,"v":3.6},{"t":42.8,"v":2.1},{"t":43.6,"v":5.3},{"t":44.4,"v":3.2},{"t":45.3,"v":5.8},{"t":46.2,"v":2.8},{"t":47.0,"v":4.6},{"t":48.2,"v":2.3},
{"t":39.8,"v":-0.6},{"t":40.4,"v":-2.3},{"t":41.2,"v":-1.2},{"t":41.9,"v":-0.3},{"t":42.6,"v":-2.6},{"t":43.4,"v":-0.9},{"t":44.1,"v":-1.9},{"t":44.9,"v":-0.5},{"t":45.8,"v":-2.8},{"t":46.6,"v":-1.4},{"t":47.3,"v":-0.4},{"t":48.3,"v":-2.0},
{"t":40.9,"v":-5.9},{"t":42.3,"v":-4.0},{"t":43.7,"v":-6.6},{"t":45.1,"v":-3.7},{"t":46.9,"v":-5.3},{"t":47.9,"v":-4.6},
{"t":50.4,"v":33.0},{"t":51.4,"v":35.6},{"t":52.3,"v":37.0},{"t":54.5,"v":35.3},{"t":56.0,"v":37.3},{"t":57.4,"v":36.0},
{"t":50.9,"v":38.6},{"t":53.0,"v":42.3},{"t":55.6,"v":39.6},{"t":58.6,"v":42.0},
{"t":50.2,"v":23.9},{"t":50.7,"v":14.5},{"t":51.3,"v":19.3},{"t":51.9,"v":27.1},{"t":52.4,"v":16.1},{"t":53.0,"v":22.1},{"t":53.7,"v":14.6},{"t":54.3,"v":25.3},{"t":54.9,"v":18.3},{"t":55.5,"v":23.3},{"t":56.1,"v":15.2},{"t":56.7,"v":20.7},{"t":57.2,"v":27.3},{"t":57.9,"v":17.9},{"t":58.5,"v":23.9},{"t":59.3,"v":15.9},
{"t":50.4,"v":12.6},{"t":51.1,"v":13.9},{"t":51.9,"v":12.9},{"t":52.8,"v":14.3},{"t":53.5,"v":12.4},{"t":54.2,"v":13.5},{"t":55.0,"v":12.7},{"t":55.8,"v":14.0},{"t":56.5,"v":12.3},{"t":57.2,"v":13.8},{"t":57.6,"v":12.9},{"t":59.2,"v":13.6},
{"t":50.3,"v":6.6},{"t":50.9,"v":8.5},{"t":51.6,"v":7.1},{"t":52.4,"v":6.1},{"t":53.1,"v":8.2},{"t":53.9,"v":7.3},{"t":54.7,"v":6.4},{"t":55.4,"v":8.7},{"t":56.3,"v":7.0},{"t":57.1,"v":6.3},{"t":57.9,"v":8.0},{"t":58.9,"v":7.1},
{"t":50.5,"v":4.1},{"t":51.4,"v":2.2},{"t":52.2,"v":5.4},{"t":53.0,"v":3.1},{"t":54.0,"v":4.9},{"t":54.9,"v":2.7},{"t":55.9,"v":4.4},{"t":56.8,"v":2.3},{"t":57.8,"v":5.2},{"t":59.1,"v":3.0},
{"t":50.2,"v":-0.5},{"t":50.8,"v":-2.1},{"t":51.6,"v":-1.0},{"t":52.3,"v":-2.7},{"t":53.1,"v":-0.4},{"t":53.9,"v":-1.6},{"t":54.7,"v":-2.4},{"t":55.5,"v":-0.7},{"t":56.3,"v":-1.8},{"t":57.1,"v":-2.9},{"t":58.0,"v":-0.6},{"t":59.0,"v":-2.2},
{"t":51.2,"v":-6.0},{"t":52.9,"v":-3.8},{"t":54.5,"v":-5.6},{"t":56.0,"v":-4.3},{"t":57.4,"v":-6.4},{"t":59.4,"v":-3.6},
{"t":61.3,"v":32.8},{"t":62.2,"v":36.2},{"t":63.4,"v":37.0},{"t":65.6,"v":35.6},{"t":67.2,"v":37.3},{"t":68.2,"v":36.0},
{"t":61.9,"v":39.8},{"t":64.0,"v":42.6},{"t":66.6,"v":39.1},{"t":69.4,"v":41.6},
{"t":61.1,"v":25.0},{"t":61.6,"v":19.0},{"t":62.1,"v":14.3},{"t":62.8,"v":22.4},{"t":63.3,"v":27.2},{"t":63.9,"v":16.9},{"t":64.5,"v":21.3},{"t":65.2,"v":25.8},{"t":65.8,"v":14.9},{"t":66.5,"v":19.7},{"t":67.1,"v":23.4},{"t":67.8,"v":16.6},{"t":68.4,"v":27.6},{"t":68.9,"v":21.8},{"t":69.5,"v":14.7},{"t":70.1,"v":25.2},
{"t":61.3,"v":12.5},{"t":62.0,"v":14.0},{"t":62.8,"v":12.8},{"t":63.6,"v":13.7},{"t":64.4,"v":12.3},{"t":65.0,"v":14.2},{"t":65.8,"v":12.9},{"t":66.5,"v":13.4},{"t":67.2,"v":12.6},{"t":67.9,"v":14.1},{"t":68.5,"v":12.8},{"t":68.8,"v":13.6},
{"t":61.2,"v":8.3},{"t":61.9,"v":6.5},{"t":62.6,"v":7.6},{"t":63.3,"v":8.9},{"t":64.1,"v":6.2},{"t":64.9,"v":7.9},{"t":65.6,"v":6.9},{"t":66.4,"v":8.5},{"t":67.1,"v":6.4},{"t":67.8,"v":7.3},{"t":68.6,"v":8.7},{"t":69.4,"v":6.8},
{"t":61.4,"v":4.7},{"t":62.2,"v":2.9},{"t":63.0,"v":5.5},{"t":63.9,"v":3.4},{"t":64.8,"v":2.2},{"t":65.5,"v":4.9},{"t":66.3,"v":3.7},{"t":67.2,"v":5.8},{"t":68.4,"v":2.6},{"t":69.7,"v":4.0},
{"t":61.0,"v":-0.5},{"t":61.8,"v":-2.0},{"t":62.6,"v":-1.1},{"t":63.5,"v":-2.8},{"t":64.3,"v":-0.4},{"t":65.0,"v":-1.7},{"t":65.9,"v":-2.5},{"t":66.7,"v":-0.6},{"t":67.5,"v":-1.9},{"t":68.3,"v":-2.7},{"t":69.1,"v":-0.8},{"t":70.0,"v":-2.3},
{"t":62.0,"v":-5.8},{"t":63.7,"v":-4.2},{"t":65.3,"v":-6.5},{"t":66.9,"v":-3.6},{"t":68.4,"v":-5.0},{"t":69.8,"v":-4.4},
{"t":72.2,"v":33.3},{"t":73.2,"v":35.9},{"t":74.3,"v":37.1},{"t":76.2,"v":35.4},{"t":78.0,"v":37.2},{"t":79.2,"v":36.1},
{"t":73.0,"v":40.0},{"t":75.6,"v":42.9},{"t":77.6,"v":39.2},{"t":80.5,"v":42.1},
{"t":72.0,"v":24.6},{"t":72.5,"v":15.3},{"t":73.1,"v":20.1},{"t":73.8,"v":26.9},{"t":74.3,"v":16.4},{"t":75.0,"v":22.4},{"t":75.6,"v":14.7},{"t":76.3,"v":25.4},{"t":76.9,"v":18.5},{"t":77.6,"v":23.0},{"t":78.3,"v":15.1},{"t":78.9,"v":20.6},{"t":79.6,"v":27.1},{"t":80.2,"v":17.7},{"t":80.9,"v":22.8},{"t":81.4,"v":26.6},
{"t":72.2,"v":12.7},{"t":72.9,"v":14.0},{"t":73.7,"v":12.4},{"t":74.5,"v":13.6},{"t":75.3,"v":12.9},{"t":76.0,"v":14.3},{"t":76.8,"v":12.5},{"t":77.5,"v":13.8},{"t":78.3,"v":12.6},{"t":79.0,"v":14.0},{"t":79.7,"v":12.8},{"t":80.0,"v":13.9},
{"t":72.1,"v":6.6},{"t":72.8,"v":8.4},{"t":73.6,"v":7.2},{"t":74.4,"v":6.1},{"t":75.2,"v":8.6},{"t":76.0,"v":7.0},{"t":76.8,"v":6.3},{"t":77.6,"v":8.2},{"t":78.4,"v":7.5},{"t":79.2,"v":6.4},{"t":80.0,"v":8.8},{"t":80.8,"v":7.1},
{"t":72.3,"v":4.0},{"t":73.2,"v":2.3},{"t":74.1,"v":5.6},{"t":75.0,"v":3.3},{"t":75.9,"v":4.8},{"t":76.8,"v":2.6},{"t":77.7,"v":5.2},{"t":78.6,"v":3.6},{"t":79.6,"v":2.2},{"t":80.7,"v":4.6},
{"t":72.0,"v":-0.4},{"t":72.6,"v":-2.4},{"t":73.4,"v":-1.0},{"t":74.2,"v":-2.7},{"t":75.0,"v":-0.6},{"t":75.8,"v":-1.8},{"t":76.6,"v":-2.3},{"t":77.5,"v":-0.5},{"t":78.3,"v":-1.5},{"t":79.1,"v":-2.8},{"t":80.0,"v":-0.7},{"t":81.0,"v":-2.0},
{"t":73.0,"v":-5.9},{"t":74.8,"v":-4.0},{"t":76.4,"v":-6.4},{"t":78.0,"v":-3.7},{"t":79.6,"v":-5.4},{"t":81.2,"v":-4.5},
{"t":83.6,"v":33.2},{"t":84.6,"v":35.8},{"t":85.7,"v":36.9},{"t":87.7,"v":35.3},{"t":89.3,"v":37.3},{"t":90.4,"v":36.0},
{"t":84.4,"v":39.7},{"t":86.4,"v":42.4},{"t":88.9,"v":39.4},{"t":91.8,"v":42.0},
{"t":83.6,"v":25.1},{"t":84.1,"v":15.6},{"t":84.6,"v":20.3},{"t":85.3,"v":27.0},{"t":85.9,"v":16.2},{"t":86.6,"v":22.0},{"t":87.2,"v":14.5},{"t":87.9,"v":25.6},{"t":88.5,"v":18.1},{"t":89.1,"v":23.2},{"t":89.8,"v":14.9},{"t":90.4,"v":20.3},{"t":91.0,"v":26.9},{"t":91.6,"v":18.2},{"t":92.2,"v":22.6},{"t":92.7,"v":14.4},
{"t":83.7,"v":12.6},{"t":84.4,"v":14.1},{"t":85.2,"v":12.8},{"t":86.0,"v":13.6},{"t":86.8,"v":12.3},{"t":87.5,"v":14.2},{"t":88.3,"v":12.7},{"t":89.0,"v":13.5},{"t":89.7,"v":12.5},{"t":90.3,"v":14.0},{"t":90.8,"v":12.9},{"t":92.4,"v":13.4},
{"t":83.6,"v":8.4},{"t":84.3,"v":6.4},{"t":85.0,"v":7.7},{"t":85.8,"v":8.9},{"t":86.6,"v":6.2},{"t":87.4,"v":7.9},{"t":88.1,"v":6.8},{"t":88.9,"v":8.3},{"t":89.7,"v":6.1},{"t":90.5,"v":7.4},{"t":91.3,"v":8.6},{"t":92.1,"v":6.6},
{"t":83.8,"v":2.4},{"t":84.7,"v":4.9},{"t":85.6,"v":3.4},{"t":86.5,"v":2.1},{"t":87.4,"v":5.5},{"t":88.4,"v":3.2},{"t":89.3,"v":5.7},{"t":90.2,"v":2.7},{"t":91.1,"v":4.3},{"t":92.3,"v":2.5},
{"t":83.4,"v":-0.5},{"t":84.0,"v":-2.2},{"t":84.8,"v":-1.3},{"t":85.6,"v":-0.3},{"t":86.4,"v":-2.6},{"t":87.2,"v":-0.9},{"t":88.0,"v":-1.9},{"t":88.8,"v":-0.6},{"t":89.6,"v":-2.8},{"t":90.4,"v":-1.4},{"t":91.2,"v":-0.4},{"t":92.0,"v":-2.1},
{"t":84.3,"v":-5.9},{"t":85.9,"v":-4.1},{"t":87.6,"v":-6.6},{"t":89.2,"v":-3.7},{"t":90.9,"v":-5.3},{"t":92.4,"v":-4.5},
{"t":94.5,"v":33.1},{"t":95.6,"v":35.7},{"t":96.9,"v":37.0},{"t":98.6,"v":35.4},
{"t":95.4,"v":40.2},{"t":97.9,"v":42.8},
{"t":94.5,"v":24.8},{"t":95.0,"v":15.9},{"t":95.6,"v":20.5},{"t":96.2,"v":27.0},{"t":96.8,"v":16.6},{"t":97.5,"v":22.4},{"t":98.2,"v":14.8},{"t":98.9,"v":25.7},{"t":99.5,"v":19.7},
{"t":94.6,"v":12.6},{"t":95.3,"v":14.0},{"t":96.1,"v":12.8},{"t":96.9,"v":13.7},{"t":97.7,"v":12.4},{"t":98.5,"v":14.2},{"t":99.3,"v":12.9},
{"t":94.5,"v":8.4},{"t":95.2,"v":6.5},{"t":96.0,"v":7.8},{"t":96.8,"v":6.2},{"t":97.6,"v":8.7},{"t":98.4,"v":7.1},{"t":99.2,"v":6.4},{"t":99.9,"v":8.0},
{"t":94.7,"v":2.5},{"t":95.7,"v":4.9},{"t":96.7,"v":3.3},{"t":97.7,"v":2.2},{"t":98.8,"v":5.4},{"t":99.7,"v":3.1},
{"t":94.4,"v":-0.6},{"t":95.1,"v":-2.3},{"t":95.9,"v":-1.1},{"t":96.8,"v":-0.4},{"t":97.6,"v":-2.6},{"t":98.5,"v":-1.0},{"t":99.3,"v":-1.9},
{"t":95.8,"v":-5.8},{"t":97.4,"v":-4.0},{"t":99.0,"v":-6.2}
]
},
"layer":[
{"data":{"name":"grid_h"},"mark":{"type":"rule","color":"#d4d4d4","strokeWidth":1},
 "encoding":{"y":{"field":"v","type":"quantitative","scale":{"domain":[-6.9,43.9],"nice":false,"zero":false},"title":"Volts"}}},
{"data":{"name":"grid_v"},"mark":{"type":"rule","color":"#d4d4d4","strokeWidth":1},
 "encoding":{"x":{"field":"t","type":"quantitative","scale":{"domain":[0,100],"nice":false},"title":"MilliSec"}}},
{"data":{"name":"noise"},"mark":{"type":"tick","orient":"vertical","size":3,"thickness":2,"color":"#3838ff","opacity":1,"clip":true},
 "encoding":{"x":{"field":"t","type":"quantitative","title":"MilliSec"},"y":{"field":"v","type":"quantitative","title":"Volts"}}},
{"data":{"name":"bands"},"transform":[{"filter":"datum.k=='up'||datum.k=='mid'||datum.k=='low'"}],
 "mark":{"type":"line","color":"#3838ff","strokeWidth":2,"strokeDash":[3,1,2,2,1,3,2,1,4,2],"yOffset":-5,"clip":true},
 "encoding":{"x":{"field":"t","type":"quantitative","title":"MilliSec"},"y":{"field":"v","type":"quantitative","title":"Volts"},"detail":{"field":"s"}}},
{"data":{"name":"bands"},"transform":[{"filter":"datum.k=='up'||datum.k=='mid'||datum.k=='low'"}],
 "mark":{"type":"line","color":"#3838ff","strokeWidth":2,"strokeDash":[2,2,3,1,1,3,2,2,1,2],"yOffset":5,"clip":true},
 "encoding":{"x":{"field":"t","type":"quantitative","title":"MilliSec"},"y":{"field":"v","type":"quantitative","title":"Volts"},"detail":{"field":"s"}}},
{"data":{"name":"bands"},"transform":[{"filter":"datum.k=='up'||datum.k=='mid'||datum.k=='low'"}],
 "mark":{"type":"line","color":"#3838ff","strokeWidth":1.5,"strokeDash":[1,3,2,5,1,2,1,6,2,3],"yOffset":-10,"clip":true},
 "encoding":{"x":{"field":"t","type":"quantitative","title":"MilliSec"},"y":{"field":"v","type":"quantitative","title":"Volts"},"detail":{"field":"s"}}},
{"data":{"name":"bands"},"transform":[{"filter":"datum.k=='up'||datum.k=='mid'||datum.k=='low'"}],
 "mark":{"type":"line","color":"#3838ff","strokeWidth":1.5,"strokeDash":[2,4,1,2,1,5,2,3,1,4],"yOffset":10,"clip":true},
 "encoding":{"x":{"field":"t","type":"quantitative","title":"MilliSec"},"y":{"field":"v","type":"quantitative","title":"Volts"},"detail":{"field":"s"}}},
{"data":{"name":"bands"},"transform":[{"filter":"datum.k=='up'||datum.k=='mid'||datum.k=='low'"}],
 "mark":{"type":"line","color":"#3838ff","strokeWidth":1.5,"strokeDash":[1,6,2,9,1,5,1,11],"yOffset":-16,"clip":true},
 "encoding":{"x":{"field":"t","type":"quantitative","title":"MilliSec"},"y":{"field":"v","type":"quantitative","title":"Volts"},"detail":{"field":"s"}}},
{"data":{"name":"bands"},"transform":[{"filter":"datum.k=='up'||datum.k=='mid'||datum.k=='low'"}],
 "mark":{"type":"line","color":"#3838ff","strokeWidth":1.5,"strokeDash":[1,8,1,5,2,10,1,7],"yOffset":16,"clip":true},
 "encoding":{"x":{"field":"t","type":"quantitative","title":"MilliSec"},"y":{"field":"v","type":"quantitative","title":"Volts"},"detail":{"field":"s"}}},
{"data":{"name":"bands"},
 "mark":{"type":"line","clip":true,"strokeCap":"butt"},
 "encoding":{"x":{"field":"t","type":"quantitative","title":"MilliSec"},"y":{"field":"v","type":"quantitative","title":"Volts"},"detail":{"field":"s"},
  "strokeWidth":{"field":"k","type":"nominal","scale":{"domain":["ramp","up","mid","low","dip"],"range":[4,6,6,7,2.5]},"legend":null},
  "color":{"datum":"Ch3","type":"nominal","scale":{"domain":["Ch1","Ch2","Ch3","Ch4","Ch5","Ch6"],"range":["#000000","#000000","#3838ff","#000000","#000000","#000000"]},
   "legend":{"title":null,"orient":"none","legendX":-96,"legendY":1,"padding":0,"symbolType":"stroke","symbolStrokeWidth":4,"symbolSize":160,"labelFontSize":10.5,"labelColor":"#000","labelFont":"DejaVu Sans","rowPadding":0,"clipHeight":16,"labelOffset":6}}}}
]
}
